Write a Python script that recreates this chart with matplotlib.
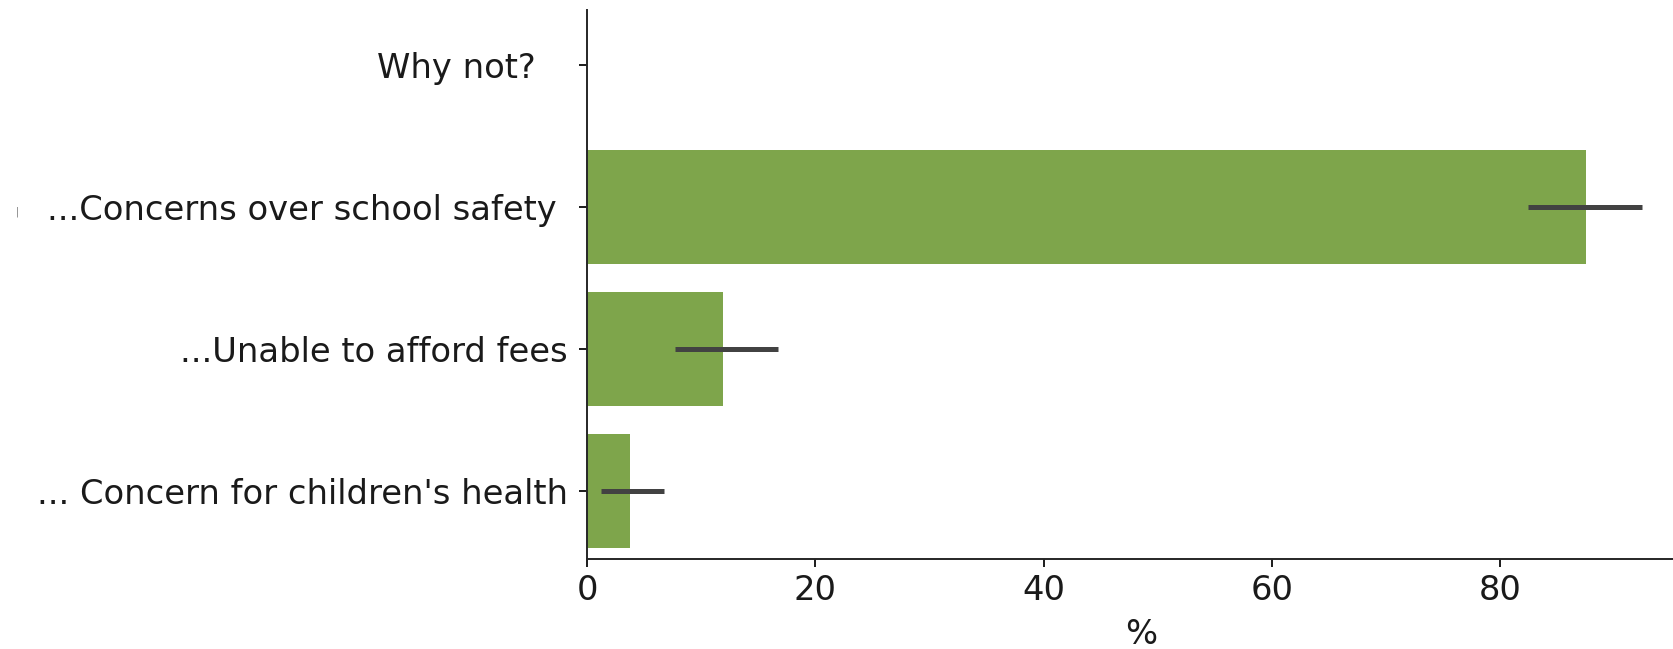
import numpy as np
from matplotlib import pyplot as plt

# categories and estimated values (percent) with confidence interval ends
labels = ["Why not?   ",
          "...Concerns over school safety ",
          "...Unable to afford fees",
          "... Concern for children's health"]
values = [np.nan, 87.5, 11.9, 3.8]
ci_low = [np.nan, 82.4, 7.7, 1.2]
ci_high = [np.nan, 92.4, 16.7, 6.7]

bar_color = "#7ea54b"
err_color = "#424242"
text_color = "#1a1a1a"
fs = 24.3

fig = plt.figure(figsize=(16.73, 6.49), dpi=100)
ax = fig.add_axes([0.3509, 0.1387, 0.662, 0.8459])

pos = np.arange(len(labels))

# bars and error lines
ax.barh(pos, values, height=0.8, color=bar_color)
for y, lo, hi in zip(pos, ci_low, ci_high):
    if np.isnan(lo):
        continue
    ax.plot([lo, hi], [y, y], color=err_color, linewidth=3.6,
            solid_capstyle="butt")

ax.set_yticks(pos)
ax.set_yticklabels(labels, fontsize=fs, color=text_color)
ax.set_xticks([0, 20, 40, 60, 80])
ax.tick_params(axis="x", labelsize=fs, labelcolor=text_color, length=6,
               width=1.25, pad=5)
ax.tick_params(axis="y", length=6, width=1.25, pad=8)
ax.set_xlim(0, 97.0)
ax.set_ylim(3.48, -0.39)
ax.set_xlabel("%", fontsize=fs, color=text_color, labelpad=8)

# hide top and right spines
for side in ["top", "right"]:
    ax.spines[side].set_visible(False)
for side in ["left", "bottom"]:
    ax.spines[side].set_linewidth(1.4)
    ax.spines[side].set_color("#262626")

# stray small mark to the left of the first long label
fig.text(17 / 1673, 1 - 212 / 649, "|", fontsize=7, color="#777777",
         ha="center", va="center")

fig.savefig("out.png", dpi=100)
